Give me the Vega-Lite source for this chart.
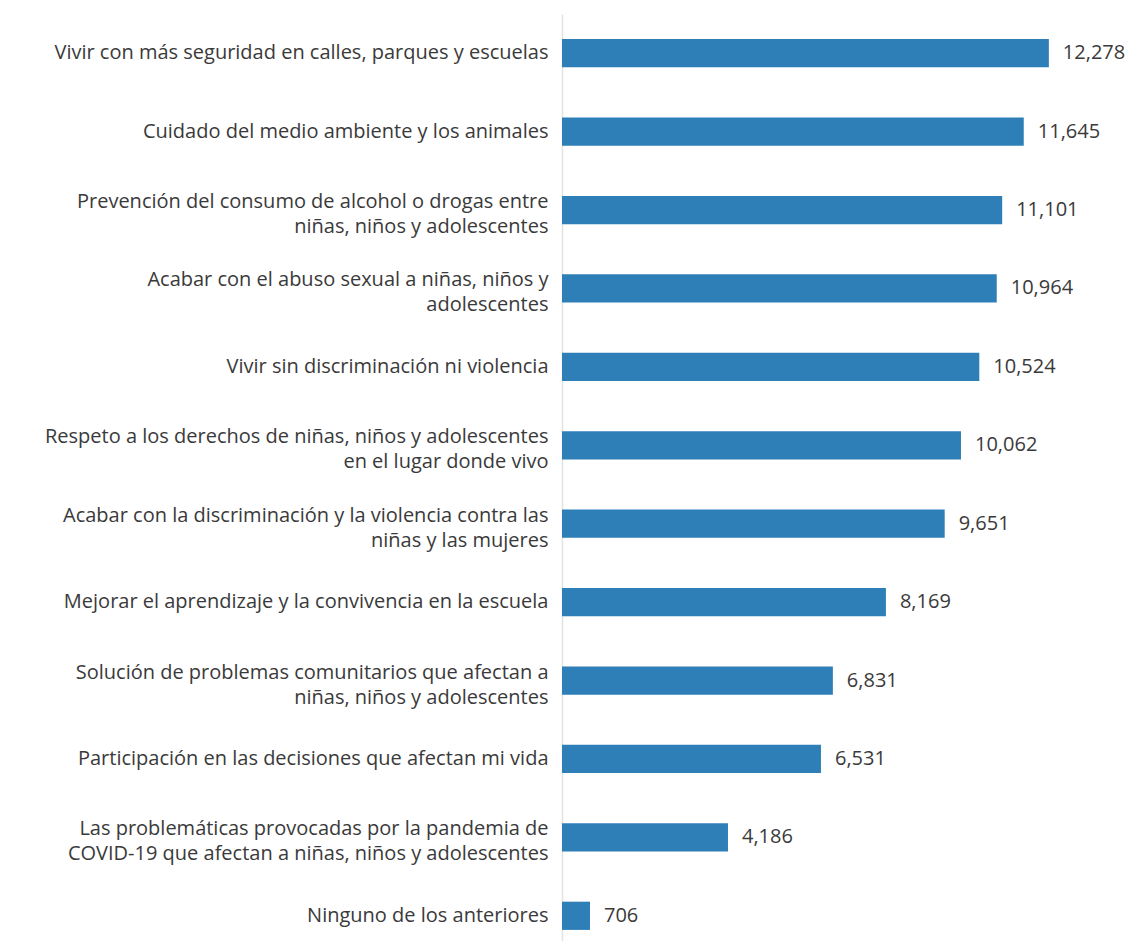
{
  "$schema": "https://vega.github.io/schema/vega-lite/v6.json",
  "autosize": "none",
  "padding": {"left": 562, "top": 14, "right": 0, "bottom": 0},
  "width": 571,
  "height": 941,
  "background": "white",
  "config": {"view": {"stroke": null}, "font": "Open Sans"},
  "data": {"values": [
    {"tema": "Vivir con más seguridad en calles, parques y escuelas", "valor": 12278},
    {"tema": "Cuidado del medio ambiente y los animales", "valor": 11645},
    {"tema": "Prevención del consumo de alcohol o drogas entre|niñas, niños y adolescentes", "valor": 11101},
    {"tema": "Acabar con el abuso sexual a niñas, niños y|adolescentes", "valor": 10964},
    {"tema": "Vivir sin discriminación ni violencia", "valor": 10524},
    {"tema": "Respeto a los derechos de niñas, niños y adolescentes|en el lugar donde vivo", "valor": 10062},
    {"tema": "Acabar con la discriminación y la violencia contra las|niñas y las mujeres", "valor": 9651},
    {"tema": "Mejorar el aprendizaje y la convivencia en la escuela", "valor": 8169},
    {"tema": "Solución de problemas comunitarios que afectan a|niñas, niños y adolescentes", "valor": 6831},
    {"tema": "Participación en las decisiones que afectan mi vida", "valor": 6531},
    {"tema": "Las problemáticas provocadas por la pandemia de|COVID-19 que afectan a niñas, niños y adolescentes", "valor": 4186},
    {"tema": "Ninguno de los anteriores", "valor": 706}
  ]},
  "encoding": {
    "y": {
      "field": "tema", "type": "nominal", "sort": null,
      "scale": {"paddingInner": 0.64, "paddingOuter": 0.32},
      "axis": {
        "title": null, "ticks": false, "domainColor": "#e3e3e3", "domainWidth": 1.5,
        "labelExpr": "split(datum.label, '|')",
        "labelFont": "Open Sans", "labelFontSize": 20, "labelColor": "#3a3a3a",
        "labelPadding": 14, "labelLineHeight": 25, "labelLimit": 600,
        "labelOffset": {"condition": {"test": "indexof(datum.value, '|') >= 0", "value": -8}, "value": 0}
      }
    },
    "x": {
      "field": "valor", "type": "quantitative",
      "scale": {"domain": [0, 14400]},
      "axis": null
    }
  },
  "layer": [
    {"mark": {"type": "bar", "color": "#2E7FB8"}},
    {
      "mark": {"type": "text", "align": "left", "dx": 14, "font": "Open Sans", "fontSize": 20, "color": "#3a3a3a"},
      "encoding": {"text": {"field": "valor", "type": "quantitative", "format": ","}}
    }
  ]
}
